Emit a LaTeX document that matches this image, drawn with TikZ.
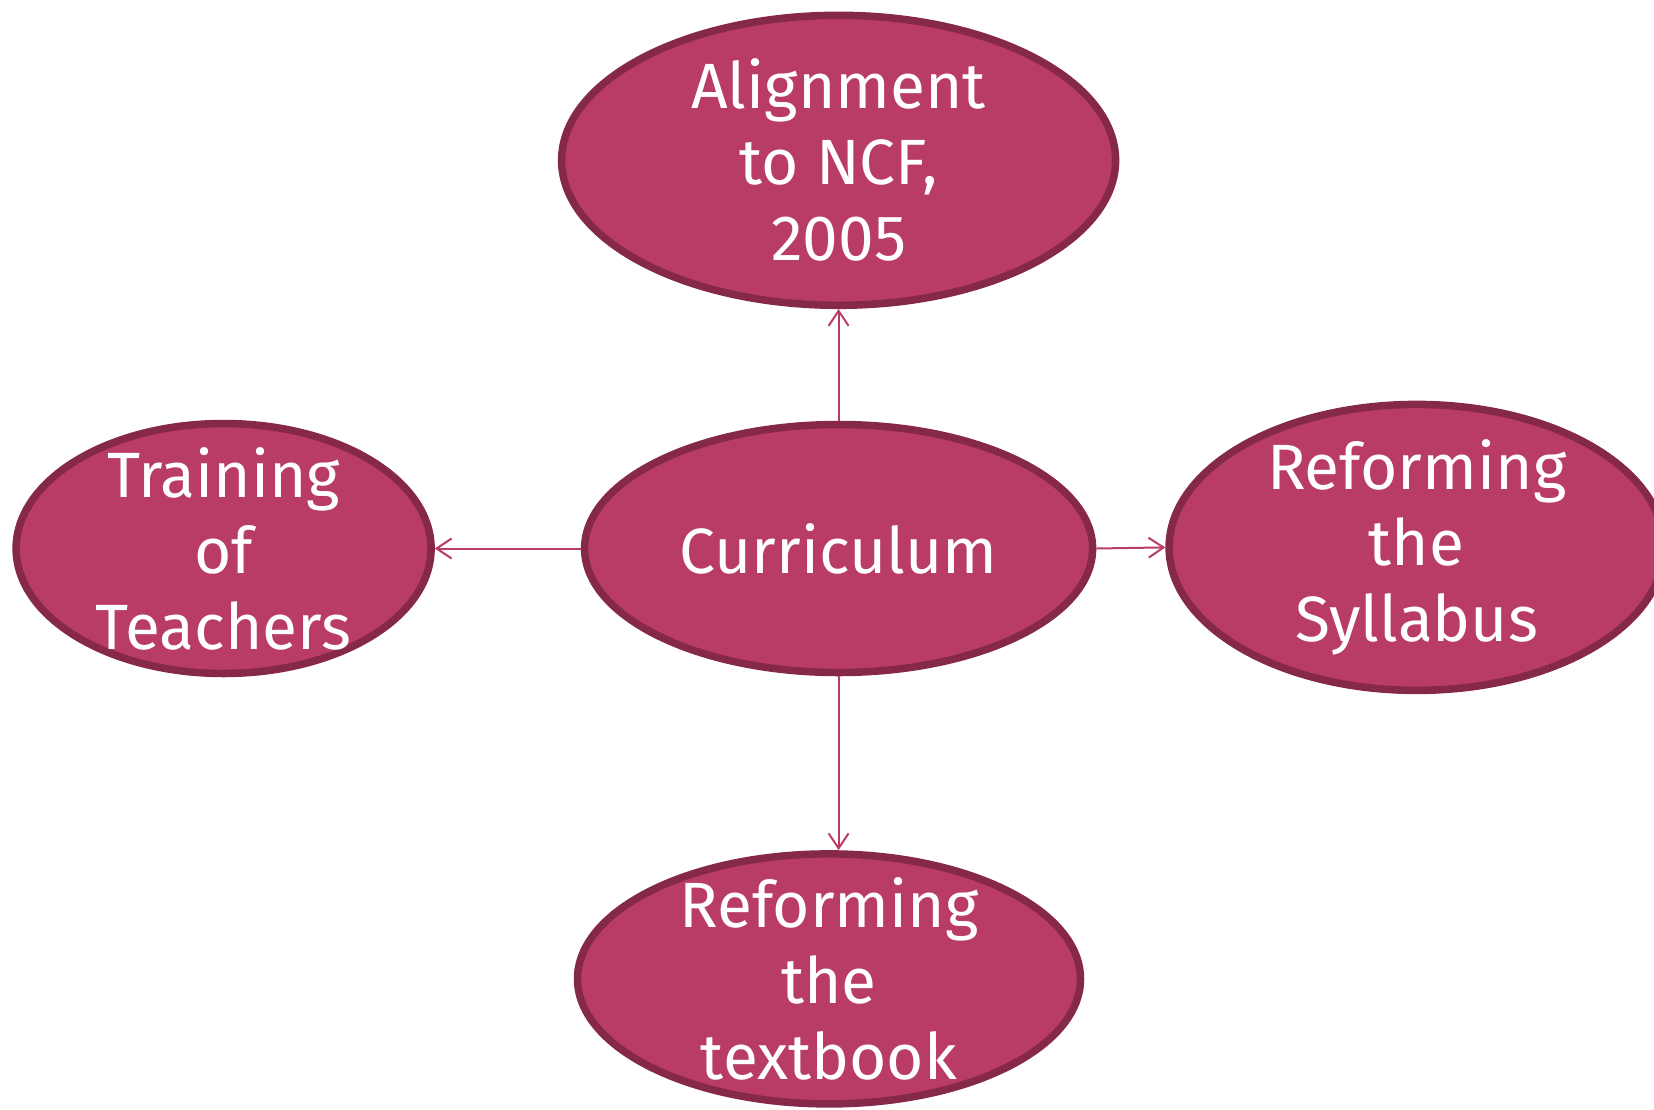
\documentclass[tikz,border=0pt]{standalone}
\usepackage{fontspec}
\setmainfont{Fira Sans}
\usetikzlibrary{shapes.geometric,arrows.meta}
\definecolor{fillc}{HTML}{B93C68}
\definecolor{edgec}{HTML}{86284A}
\tikzset{
  bubble/.style={ellipse, draw=edgec, fill=fillc, line width=7.5pt, inner sep=0pt},
  btext/.style={text=white, align=center, inner sep=0pt, font=\fontsize{64}{76}\selectfont},
  link/.style={draw=fillc, line width=2pt, -{Straight Barb[length=15pt,width=20pt,line width=2pt]}}
}
\begin{document}
\begin{tikzpicture}[x=1pt,y=-1pt]
\path[use as bounding box, fill=white] (0,0) rectangle (1654,1109);
\node[bubble, minimum width=554pt, minimum height=290pt] (top) at (838.6,160.3) {};
\node[bubble, minimum width=508pt, minimum height=248pt] (cur) at (838.6,548.5) {};
\node[bubble, minimum width=415pt, minimum height=250pt] (left) at (223.6,548.5) {};
\node[bubble, minimum width=495pt, minimum height=286pt] (right) at (1416.6,547.4) {};
\node[bubble, minimum width=503pt, minimum height=250pt] (bot) at (829,978.9) {};
\node[btext] (topt) at (top.center) {Alignment\\to NCF,\\2005};
\node[btext] (curt) at (cur.center) {Curriculum};
\node[btext] (leftt) at (left.center) {Training\\of\\Teachers};
\node[btext] (rightt) at (right.center) {Reforming\\the\\Syllabus};
\node[btext] (bott) at (bot.center) {Reforming\\the\\textbook};
\draw[link] (cur.north) -- (cur.north |- top.south);
\draw[link] (cur.west) -- (left.east);
\draw[link] (cur.east) -- (right.west);
\draw[link] (cur.south) -- (cur.south |- bot.north);
\end{tikzpicture}
\end{document}
